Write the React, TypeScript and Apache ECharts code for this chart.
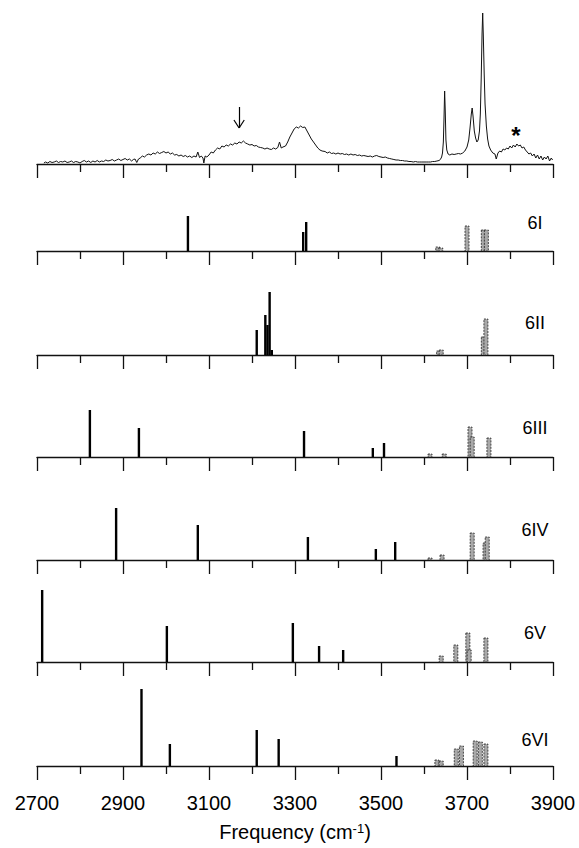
import React, { useEffect, useRef } from "react";
import * as echarts from "echarts";

// Experimental spectrum: [frequency (cm-1), intensity (arb.)]
const expSpectrum: [number, number][] = [
  [2716, 1], [2720, 2], [2725, 1], [2730, 2.5], [2735, 1.5], [2740, 2], [2745, 3], [2750, 1.5],
  [2755, 2.5], [2760, 2], [2765, 3], [2770, 1.5], [2775, 2], [2780, 3], [2785, 1.5], [2790, 2.5],
  [2795, 2], [2800, 1], [2805, 2.5], [2810, 3.5], [2815, 2], [2820, 3], [2825, 1.5], [2830, 3],
  [2835, 2], [2840, 3.5], [2845, 2], [2850, 3], [2855, 2.5], [2860, 4], [2865, 3], [2870, 3.5],
  [2875, 4.5], [2880, 3], [2885, 4], [2890, 5], [2895, 3.5], [2900, 4.5], [2905, 5.5], [2910, 4],
  [2915, 5], [2920, 3], [2924, 4.5], [2928, 5], [2932, 1.5], [2936, 5], [2940, 6], [2945, 8],
  [2950, 7], [2955, 9], [2960, 10], [2965, 9], [2970, 11], [2975, 10], [2980, 12], [2985, 10.5],
  [2990, 11.5], [2995, 12.5], [3000, 11], [3005, 12], [3010, 10], [3015, 11], [3020, 9], [3025, 9.5],
  [3030, 8], [3035, 9], [3040, 7.5], [3045, 8.5], [3050, 7], [3055, 8], [3060, 6.5], [3065, 8],
  [3070, 7], [3074, 12], [3078, 6.5], [3082, 8], [3086, 6], [3088, 1], [3091, 8], [3095, 7],
  [3100, 9], [3105, 12], [3110, 11], [3115, 14], [3120, 16], [3125, 15], [3130, 18], [3135, 17],
  [3140, 19], [3145, 18], [3150, 20], [3155, 19], [3160, 21], [3165, 20], [3170, 22], [3175, 21],
  [3180, 23], [3185, 21], [3190, 20], [3195, 19], [3200, 19.5], [3205, 18], [3210, 18.5], [3215, 17],
  [3220, 16.5], [3225, 16], [3230, 15], [3235, 16], [3240, 15], [3245, 14.5], [3250, 16], [3255, 15],
  [3260, 16.5], [3264, 22], [3268, 16], [3272, 17], [3278, 18], [3283, 22], [3288, 27], [3293, 31],
  [3298, 35], [3303, 37], [3308, 36], [3313, 38], [3318, 36.5], [3323, 37], [3328, 33], [3333, 29],
  [3338, 25], [3343, 22], [3348, 19], [3353, 16], [3358, 14], [3363, 13], [3370, 12.5], [3375, 11],
  [3380, 12], [3385, 10.5], [3390, 11], [3395, 10], [3400, 11], [3405, 10], [3410, 10.5], [3415, 9.5],
  [3420, 10], [3425, 9], [3430, 10], [3435, 9], [3440, 9.5], [3445, 8.5], [3450, 9], [3455, 8],
  [3460, 8.5], [3465, 8], [3470, 7.5], [3475, 8], [3480, 7], [3485, 8], [3490, 8.5], [3495, 7.5],
  [3500, 7], [3505, 6.5], [3510, 7], [3515, 6], [3520, 5.5], [3525, 5], [3530, 4.5], [3535, 4],
  [3540, 4], [3545, 3.5], [3550, 3.5], [3555, 3], [3560, 3], [3565, 2.5], [3570, 2.5], [3575, 2],
  [3580, 2.5], [3585, 2], [3590, 2], [3595, 2], [3600, 2], [3605, 2], [3610, 2], [3615, 2],
  [3620, 2.5], [3625, 2.5], [3630, 3], [3635, 3.5], [3638, 4.5], [3641, 7], [3643, 11], [3645, 22],
  [3646.5, 45], [3648, 73], [3649.5, 52], [3651, 24], [3653, 14], [3656, 10], [3660, 9], [3665, 10],
  [3670, 9.5], [3675, 10], [3680, 10.5], [3685, 10], [3690, 11], [3695, 13], [3700, 17], [3704, 24],
  [3707, 36], [3710, 50], [3712, 56], [3714, 48], [3717, 33], [3720, 26], [3723, 22], [3726, 24],
  [3729, 33], [3731, 50], [3733, 85], [3735, 130], [3736.5, 151], [3738, 128], [3740, 90], [3742, 60],
  [3745, 38], [3748, 25], [3751, 18], [3755, 14], [3760, 11], [3765, 10], [3768, 5], [3772, 11],
  [3776, 13], [3780, 12], [3784, 15], [3788, 14], [3792, 16], [3796, 15], [3800, 18], [3804, 16],
  [3808, 19], [3812, 17], [3816, 20], [3820, 18], [3824, 19], [3828, 16], [3832, 17], [3836, 14],
  [3840, 12], [3844, 10], [3848, 11], [3852, 8], [3856, 10], [3860, 6], [3864, 9], [3868, 5],
  [3872, 8], [3876, 4], [3880, 7], [3884, 5], [3888, 8], [3892, 3], [3896, 6], [3899, 4],
];

// Computed stick spectra: [frequency, intensity]
const solid6I: [number, number][] = [[3051, 35], [3319, 19], [3326, 29]];
const hatched6I: [number, number][] = [[3632, 4], [3639, 3], [3700, 25], [3738, 21], [3745, 21]];
const solid6II: [number, number][] = [[3211, 25], [3231, 40], [3236, 30], [3241, 63], [3246, 5]];
const hatched6II: [number, number][] = [[3634, 4], [3640, 5], [3738, 18], [3744, 36]];
const solid6III: [number, number][] = [[2823, 47], [2937, 29], [3321, 26], [3481, 9], [3507, 14]];
const hatched6III: [number, number][] = [[3614, 3], [3647, 3], [3707, 30], [3712, 20], [3751, 19]];
const solid6IV: [number, number][] = [[2884, 52], [3074, 35], [3330, 23], [3488, 11], [3533, 18]];
const hatched6IV: [number, number][] = [[3614, 2], [3642, 5], [3712, 27], [3742, 17], [3747, 23]];
const solid6V: [number, number][] = [[2712, 72], [3002, 36], [3295, 39], [3356, 16], [3412, 12]];
const hatched6V: [number, number][] = [[3640, 6], [3674, 17], [3702, 29], [3705, 12], [3744, 24]];
const solid6VI: [number, number][] = [[2943, 77], [3009, 22], [3211, 36], [3262, 27], [3536, 10]];
const hatched6VI: [number, number][] = [[3630, 6], [3640, 5], [3675, 17], [3687, 20], [3719, 25], [3731, 24], [3744, 22]];

const panelLabels = ["6I", "6II", "6III", "6IV", "6V", "6VI"];
const solidSets = [solid6I, solid6II, solid6III, solid6IV, solid6V, solid6VI];
const hatchedSets = [hatched6I, hatched6II, hatched6III, hatched6IV, hatched6V, hatched6VI];

const X_MIN = 2700;
const X_MAX = 3900;
const X_INTERVAL = 200;
const X_TITLE = "Frequency (cm{sup|-1})";
// annotations on the experimental trace
const arrowFreq = 3170;
const starPoint: [number, number] = [3814, 35];

export default function App() {
  const ref = useRef<HTMLDivElement>(null);
  useEffect(() => {
    if (!ref.current) return;
    const chart = echarts.init(ref.current, null, { renderer: "svg" });
    const FONT = "'Liberation Sans', Arial, Helvetica, sans-serif";
    const LEFT = 37;
    const WIDTH = 516;
    const stickBaselines = [251, 355, 457, 560, 662, 766];
    const STICK_H = 85;
    const grids: any[] = [{ left: LEFT, width: WIDTH, top: 12, height: 152 }];
    stickBaselines.forEach((b) => grids.push({ left: LEFT, width: WIDTH, top: b - STICK_H, height: STICK_H }));

    const lineCol = "#111";
    const xAxes = grids.map((_, i) => {
      const last = i === grids.length - 1;
      return {
        type: "value",
        gridIndex: i,
        min: X_MIN,
        max: X_MAX,
        interval: X_INTERVAL,
        axisLine: { show: true, onZero: false, lineStyle: { color: lineCol, width: 1.3 } },
        axisTick: { show: true, inside: false, length: 14, lineStyle: { color: lineCol, width: 1.3 } },
        minorTick: { show: true, splitNumber: 2, length: 8, lineStyle: { color: lineCol, width: 1.3 } },
        splitLine: { show: false },
        minorSplitLine: { show: false },
        axisLabel: {
          show: last,
          fontSize: 20,
          color: "#000",
          fontFamily: FONT,
          margin: 27,
          formatter: (v: number) => String(v),
        },
        name: last ? X_TITLE : "",
        nameLocation: "middle",
        nameGap: 56,
        nameTextStyle: {
          fontSize: 20,
          color: "#000",
          fontFamily: FONT,
          rich: { sup: { fontSize: 13, verticalAlign: "top", fontFamily: FONT, color: "#000" } },
        },
      };
    });
    const yAxes = grids.map((_, i) => ({
      type: "value",
      gridIndex: i,
      min: 0,
      max: i === 0 ? 152 : STICK_H,
      show: false,
    }));

    const makeStick = (width: number, hatched: boolean) => (params: any, api: any) => {
      const x = api.value(0);
      const y = api.value(1);
      const base = api.coord([x, 0]);
      const top = api.coord([x, y]);
      return {
        type: "rect",
        shape: { x: base[0] - width / 2, y: top[1], width, height: base[1] - top[1] },
        style: hatched
          ? { fill: "#a8a8a8", stroke: "#222", lineWidth: 0.8, lineDash: [2, 1.2] }
          : { fill: "#000" },
      };
    };

    const series: any[] = [
      {
        type: "line",
        xAxisIndex: 0,
        yAxisIndex: 0,
        data: expSpectrum,
        symbol: "none",
        lineStyle: { color: "#111", width: 1 },
        silent: true,
        markLine: {
          silent: true,
          symbol: ["none", "none"],
          label: { show: false },
          lineStyle: { color: "#000", width: 1.2, type: "solid" },
          data: [
            [{ coord: [arrowFreq, 57] }, { coord: [arrowFreq, 36] }],
            [{ coord: [arrowFreq - 12, 44] }, { coord: [arrowFreq, 36] }],
            [{ coord: [arrowFreq + 12, 44] }, { coord: [arrowFreq, 36] }],
          ],
        },
        markPoint: {
          silent: true,
          symbol: "circle",
          symbolSize: 0,
          data: [
            {
              coord: starPoint,
              label: {
                show: true,
                formatter: "*",
                fontSize: 24,
                fontWeight: "bold",
                color: "#000",
                fontFamily: FONT,
                offset: [0, 6],
              },
            },
          ],
        },
      },
    ];
    solidSets.forEach((d, i) => {
      series.push({
        type: "custom",
        xAxisIndex: i + 1,
        yAxisIndex: i + 1,
        data: d,
        encode: { x: 0, y: 1 },
        renderItem: makeStick(2.4, false),
        silent: true,
      });
      series.push({
        type: "custom",
        xAxisIndex: i + 1,
        yAxisIndex: i + 1,
        data: hatchedSets[i],
        encode: { x: 0, y: 1 },
        renderItem: makeStick(4, true),
        silent: true,
      });
    });

    const labelCenters = [223, 323, 428, 530, 633, 740];
    const graphic = panelLabels.map((t, i) => ({
      type: "text",
      x: 535,
      y: labelCenters[i],
      style: {
        text: t,
        fontSize: 18,
        fontFamily: FONT,
        fill: "#000",
        textAlign: "center",
        textVerticalAlign: "middle",
      },
    }));

    chart.setOption({
      animation: false,
      backgroundColor: "#fff",
      grid: grids,
      xAxis: xAxes,
      yAxis: yAxes,
      series,
      graphic,
    });
    return () => chart.dispose();
  }, []);
  return (
    <div
      ref={ref}
      style={{ position: "fixed", left: 0, top: 0, width: 579, height: 848, background: "#fff" }}
    />
  );
}
